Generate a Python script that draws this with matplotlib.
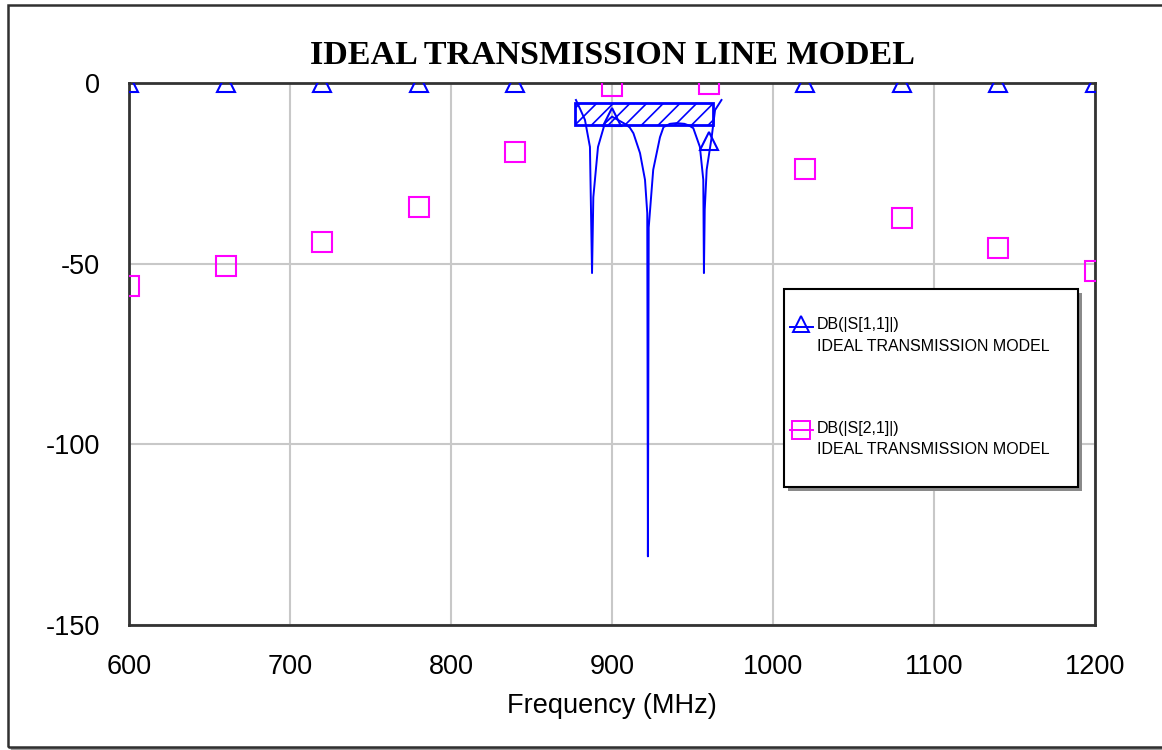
import numpy as np
import matplotlib
matplotlib.use("Agg")
import matplotlib.pyplot as plt
from matplotlib.patches import Rectangle
from matplotlib.lines import Line2D

plt.rcParams["axes.unicode_minus"] = False
plt.rcParams["hatch.linewidth"] = 1.2

# coarse sweep (markers), MHz
freq_coarse = [600, 660, 720, 780, 840, 900, 960, 1020, 1080, 1140, 1200]
s11_coarse = [0, 0, 0, 0, 0, -9.3, -16, 0, 0, 0, 0]
s21_coarse = [-56.2, -50.6, -44, -34.3, -19.1, -0.8, -0.3, -23.8, -37.4, -45.7, -52]

# fine sweep of S11 in the passband
freq_fine = [877.6, 880, 883.2, 886.3, 887.6, 888.4, 891.3, 895.6, 900, 904,
             908, 911, 913.3, 917.4, 920.5, 921.9, 922.3, 922.8, 925.6, 929.8,
             932, 936, 940, 945, 948, 950.5, 954.6, 956.7, 957.1, 957.6, 958.8,
             961.9, 964, 968]
s11_fine = [-4.7, -7, -10.2, -17.7, -52.6, -31.6, -17.7, -11.1, -9.3, -10.3,
            -11.3, -12.3, -13.9, -19.4, -26.8, -36, -131, -40, -24, -15,
            -12.2, -11.3, -11.1, -11.3, -11.8, -12.5, -17.7, -26.8, -52.6, -35, -24,
            -15, -7.5, -4.7]

# goal box (hatched)
goal_f = [877, 963]
goal_db = [-11.5, -5.5]

xticks = [600, 700, 800, 900, 1000, 1100, 1200]
yticks = [0, -50, -100, -150]

W, H = 1162, 750
fig = plt.figure(figsize=(W / 100, H / 100), dpi=100)
fig.patch.set_facecolor("white")

# outer frame with a shadow along the bottom
fig.lines.append(Line2D([12 / W, 1.0], [1.2 / H, 1.2 / H], transform=fig.transFigure,
                        color="#9a9a9a", lw=2.5, zorder=-2))
fig.patches.append(Rectangle((8 / W, 3.5 / H), 1.02, 741.5 / H, transform=fig.transFigure,
                             fill=False, edgecolor="#303030", lw=1.8, zorder=-1))

ax = fig.add_axes([129 / W, 1 - 625 / H, (1095 - 129) / W, (625 - 83) / H])
ax.set_xlim(600, 1200)
ax.set_ylim(-150, 0)

ax.grid(True, color="#c8c8c8", lw=1.5)
ax.set_axisbelow(True)
for s in ax.spines.values():
    s.set_color("#333333")
    s.set_linewidth(2)

ax.plot(freq_fine, s11_fine, color="#0000ff", lw=1.4, zorder=3)
ax.add_patch(Rectangle((goal_f[0], goal_db[0]), goal_f[1] - goal_f[0], goal_db[1] - goal_db[0],
                       fill=False, hatch="//", edgecolor="#0000ff", lw=2, zorder=4))
ax.plot(freq_coarse, s11_coarse, ls="none", marker="^", ms=13, mfc="none",
        mec="#0000ff", mew=1.5, zorder=5)
ax.plot(freq_coarse, s21_coarse, ls="none", marker="s", ms=15, mfc="none",
        mec="#ff00ff", mew=1.5, zorder=5)

ax.set_xticks(xticks)
ax.set_yticks(yticks)
ax.tick_params(length=0, labelsize=19.5)
ax.tick_params(axis="x", pad=21)
ax.tick_params(axis="y", pad=21)
for lab in ax.get_xticklabels() + ax.get_yticklabels():
    lab.set_family("Liberation Sans")
ax.set_xlabel("Frequency (MHz)", fontsize=19.5, family="Liberation Sans", labelpad=9)

fig.text(612 / W, 1 - 55 / H, "IDEAL TRANSMISSION LINE MODEL", ha="center", va="center",
         fontsize=24.5, fontweight="bold", family="Liberation Serif")

# legend box drawn by hand
fig.patches.append(Rectangle((788 / W, 1 - 491 / H), 294 / W, 198 / H, transform=fig.transFigure,
                             facecolor="#8a8a8a", edgecolor="none", zorder=10))
fig.patches.append(Rectangle((784 / W, 1 - 487 / H), 294 / W, 198 / H, transform=fig.transFigure,
                             facecolor="white", edgecolor="black", lw=1.5, zorder=11))
entries = [("DB(|S[1,1]|)", "^", "#0000ff", 327), ("DB(|S[2,1]|)", "s", "#ff00ff", 430)]
for label, mk, col, yp in entries:
    fig.lines.append(Line2D([790 / W, 813 / W], [1 - yp / H] * 2, transform=fig.transFigure,
                            color=col, lw=1.4, zorder=12))
    fig.lines.append(Line2D([801 / W], [1 - (yp - 3 if mk == "^" else yp) / H],
                            transform=fig.transFigure, marker=mk,
                            ms=11 if mk == "^" else 13, mfc="none", mec=col, mew=1.4, zorder=12))
    fig.text(817 / W, 1 - (yp - 2) / H, label, fontsize=11.5, family="Liberation Sans",
             va="center", ha="left", zorder=13)
    fig.text(817 / W, 1 - (yp + 19) / H, "IDEAL TRANSMISSION MODEL", fontsize=11.5,
             family="Liberation Sans", va="center", ha="left", zorder=13)

fig.savefig("out.png", dpi=100)
